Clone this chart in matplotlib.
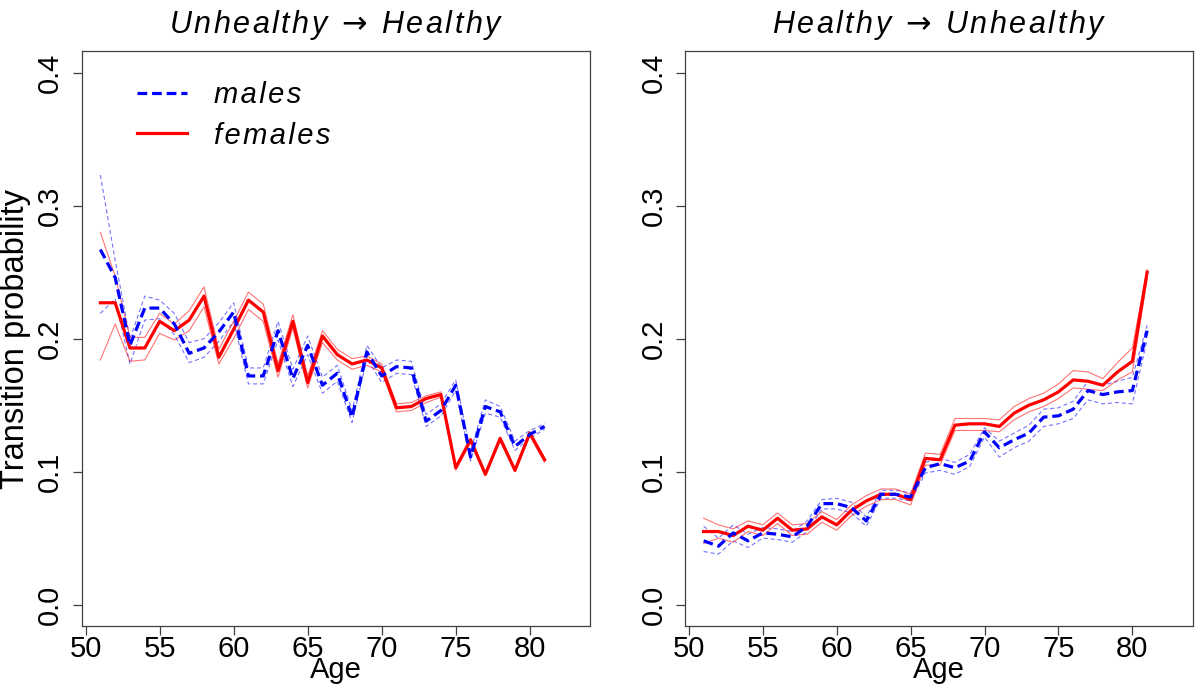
import matplotlib
matplotlib.use('Agg')
import matplotlib.pyplot as plt
from matplotlib.lines import Line2D

plt.rcParams['font.family'] = ['Liberation Sans', 'DejaVu Sans']
plt.rcParams['lines.scale_dashes'] = False

ages = list(range(51, 82))

# Unhealthy -> Healthy
uh_f = [0.227, 0.227, 0.193, 0.193, 0.213, 0.206, 0.214, 0.232, 0.186, 0.207, 0.229,
        0.220, 0.176, 0.213, 0.167, 0.202, 0.188, 0.181, 0.184, 0.178, 0.148, 0.149,
        0.155, 0.158, 0.103, 0.124, 0.098, 0.125, 0.101, 0.129, 0.109]
uh_f_hi = [0.280, 0.247, 0.201, 0.201, 0.219, 0.211, 0.221, 0.239, 0.192, 0.213, 0.235,
           0.226, 0.181, 0.218, 0.172, 0.206, 0.192, 0.185, 0.187, 0.181, 0.151, 0.152,
           0.157, 0.160, 0.104, 0.125, 0.099, 0.126, 0.102, 0.130, 0.110]
uh_f_lo = [0.184, 0.211, 0.183, 0.184, 0.204, 0.199, 0.206, 0.224, 0.181, 0.200, 0.222,
           0.213, 0.171, 0.208, 0.163, 0.197, 0.184, 0.177, 0.180, 0.175, 0.145, 0.146,
           0.152, 0.156, 0.101, 0.122, 0.097, 0.123, 0.100, 0.127, 0.107]
uh_m = [0.267, 0.246, 0.195, 0.223, 0.223, 0.211, 0.189, 0.193, 0.205, 0.220, 0.172,
        0.172, 0.206, 0.170, 0.195, 0.165, 0.174, 0.141, 0.190, 0.172, 0.179, 0.178,
        0.138, 0.146, 0.165, 0.111, 0.149, 0.145, 0.119, 0.128, 0.134]
uh_m_hi = [0.323, 0.259, 0.200, 0.232, 0.229, 0.219, 0.197, 0.200, 0.212, 0.227, 0.178,
           0.178, 0.213, 0.177, 0.202, 0.171, 0.180, 0.146, 0.195, 0.178, 0.184, 0.183,
           0.143, 0.151, 0.169, 0.115, 0.154, 0.149, 0.123, 0.131, 0.136]
uh_m_lo = [0.219, 0.230, 0.181, 0.214, 0.215, 0.203, 0.182, 0.186, 0.198, 0.213, 0.166,
           0.166, 0.199, 0.164, 0.188, 0.159, 0.168, 0.137, 0.185, 0.167, 0.174, 0.173,
           0.134, 0.142, 0.161, 0.108, 0.144, 0.141, 0.116, 0.125, 0.132]

# Healthy -> Unhealthy
hu_f = [0.055, 0.055, 0.052, 0.059, 0.056, 0.065, 0.056, 0.057, 0.066, 0.060, 0.071,
        0.078, 0.083, 0.083, 0.079, 0.110, 0.109, 0.135, 0.136, 0.136, 0.134, 0.144,
        0.150, 0.154, 0.160, 0.169, 0.168, 0.165, 0.175, 0.183, 0.250]
hu_f_hi = [0.065, 0.060, 0.057, 0.063, 0.060, 0.069, 0.060, 0.061, 0.070, 0.064, 0.075,
           0.082, 0.087, 0.087, 0.083, 0.114, 0.113, 0.140, 0.140, 0.140, 0.139, 0.149,
           0.155, 0.159, 0.166, 0.176, 0.175, 0.170, 0.182, 0.193, 0.252]
hu_f_lo = [0.046, 0.050, 0.047, 0.055, 0.052, 0.061, 0.052, 0.053, 0.062, 0.056, 0.067,
           0.074, 0.079, 0.079, 0.075, 0.105, 0.105, 0.131, 0.131, 0.131, 0.130, 0.139,
           0.145, 0.149, 0.155, 0.163, 0.162, 0.161, 0.169, 0.175, 0.245]
hu_m = [0.048, 0.044, 0.054, 0.048, 0.054, 0.053, 0.051, 0.059, 0.076, 0.076, 0.073,
        0.063, 0.083, 0.083, 0.081, 0.103, 0.106, 0.103, 0.108, 0.130, 0.118, 0.124,
        0.129, 0.141, 0.142, 0.147, 0.161, 0.158, 0.160, 0.161, 0.206]
hu_m_hi = [0.059, 0.050, 0.060, 0.053, 0.058, 0.057, 0.055, 0.063, 0.079, 0.080, 0.077,
           0.066, 0.086, 0.086, 0.084, 0.107, 0.110, 0.107, 0.113, 0.133, 0.123, 0.129,
           0.135, 0.147, 0.148, 0.153, 0.168, 0.165, 0.168, 0.171, 0.210]
hu_m_lo = [0.040, 0.038, 0.048, 0.043, 0.050, 0.049, 0.047, 0.055, 0.072, 0.072, 0.069,
           0.059, 0.080, 0.080, 0.078, 0.099, 0.101, 0.098, 0.104, 0.126, 0.111, 0.118,
           0.123, 0.134, 0.136, 0.140, 0.154, 0.151, 0.152, 0.151, 0.199]

titles = ['Unhealthy', 'Healthy']
xticks = [50, 55, 60, 65, 70, 75, 80]
yticks = [0.0, 0.1, 0.2, 0.3, 0.4]

BLUE = '#0000ff'
RED = '#ff0000'
AXC = '#404040'


def spaced(s):
    return '\u200a'.join(s)


def panel(ax, m, m_lo, m_hi, f, f_lo, f_hi, title):
    ax.plot(ages, m_lo, color=BLUE, lw=0.8, alpha=0.55, dashes=(3, 2))
    ax.plot(ages, m_hi, color=BLUE, lw=0.8, alpha=0.55, dashes=(3, 2))
    ax.plot(ages, f_lo, color=RED, lw=0.8, alpha=0.55)
    ax.plot(ages, f_hi, color=RED, lw=0.8, alpha=0.55)
    ax.plot(ages, f, color=RED, lw=2.3)
    ax.plot(ages, m, color=BLUE, lw=2.3, dashes=(7, 3.5))
    ax.set_xlim(49.74, 84.1)
    ax.set_ylim(-0.016, 0.416)
    ax.set_xticks(xticks)
    ax.set_yticks(yticks)
    ax.set_yticklabels(['%.1f' % v for v in yticks], rotation=90, va='center')
    ax.tick_params(axis='both', length=6.5, width=0.9, color=AXC, labelsize=21)
    ax.tick_params(axis='x', pad=0)
    ax.tick_params(axis='y', pad=6)
    for s in ax.spines.values():
        s.set_color(AXC)
        s.set_linewidth(0.9)
    ax.set_xlabel('Age', fontsize=21, labelpad=-5)
    ax.set_title(title, fontsize=22, style='italic', pad=13)


fig = plt.figure(figsize=(11.98, 6.86), dpi=100)
ax1 = fig.add_axes([0.0682, 0.0875, 0.4247, 0.8376])
ax2 = fig.add_axes([0.5718, 0.0875, 0.4240, 0.8376])

arrow = ' $\\rightarrow$ '
panel(ax1, uh_m, uh_m_lo, uh_m_hi, uh_f, uh_f_lo, uh_f_hi,
      spaced(titles[0]) + arrow + spaced(titles[1]))
panel(ax2, hu_m, hu_m_lo, hu_m_hi, hu_f, hu_f_lo, hu_f_hi,
      spaced(titles[1]) + arrow + spaced(titles[0]))

ax1.set_ylabel('Transition probability', fontsize=23.5, labelpad=4)

handles = [Line2D([], [], color=BLUE, lw=2.3, dashes=(7, 3.5)),
           Line2D([], [], color=RED, lw=2.3)]
ax1.legend(handles, [spaced('males'), spaced('females')], loc='upper left',
           bbox_to_anchor=(0.109, 0.948), frameon=False, borderpad=0, borderaxespad=0,
           handlelength=1.7, handletextpad=0.95, labelspacing=0.42,
           prop={'size': 21, 'style': 'italic'})

fig.savefig('out.png', dpi=100)
